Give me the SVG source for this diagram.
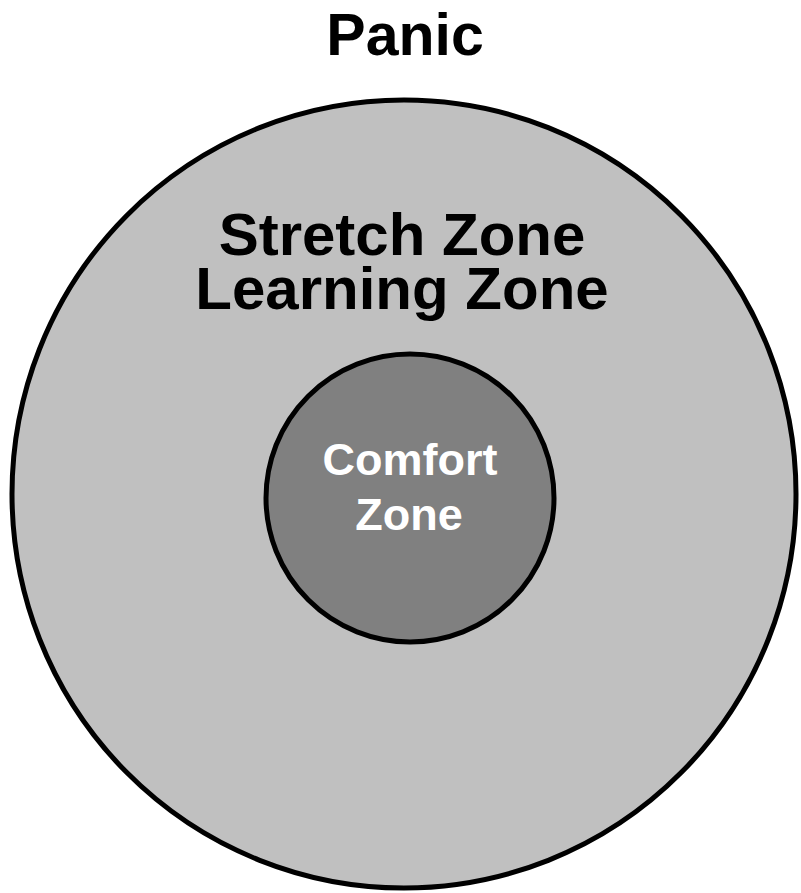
<svg xmlns="http://www.w3.org/2000/svg" width="801" height="893" viewBox="0 0 801 893">
  <style>
    .zone { stroke: #000; stroke-width: 5; }
    .label { font-family: "Liberation Sans", Arial, sans-serif; font-weight: bold; text-anchor: middle; }
  </style>
  <rect width="801" height="893" fill="#fff"/>
  <g id="panic">
    <text class="label" x="405" y="55" font-size="59" fill="#000">Panic</text>
  </g>
  <g id="stretch-zone">
    <ellipse class="zone" cx="404" cy="494" rx="392" ry="394" fill="#c0c0c0"/>
    <text class="label" x="402" y="255" font-size="60" fill="#000">Stretch Zone</text>
    <text class="label" x="402" y="309" font-size="60" fill="#000">Learning Zone</text>
  </g>
  <g id="comfort-zone">
    <circle class="zone" cx="410" cy="498" r="144" fill="#808080"/>
    <text class="label" x="410" y="475" font-size="45" fill="#fff">Comfort</text>
    <text class="label" x="409" y="530" font-size="45" fill="#fff">Zone</text>
  </g>
  <g id="connectors"/>
</svg>
